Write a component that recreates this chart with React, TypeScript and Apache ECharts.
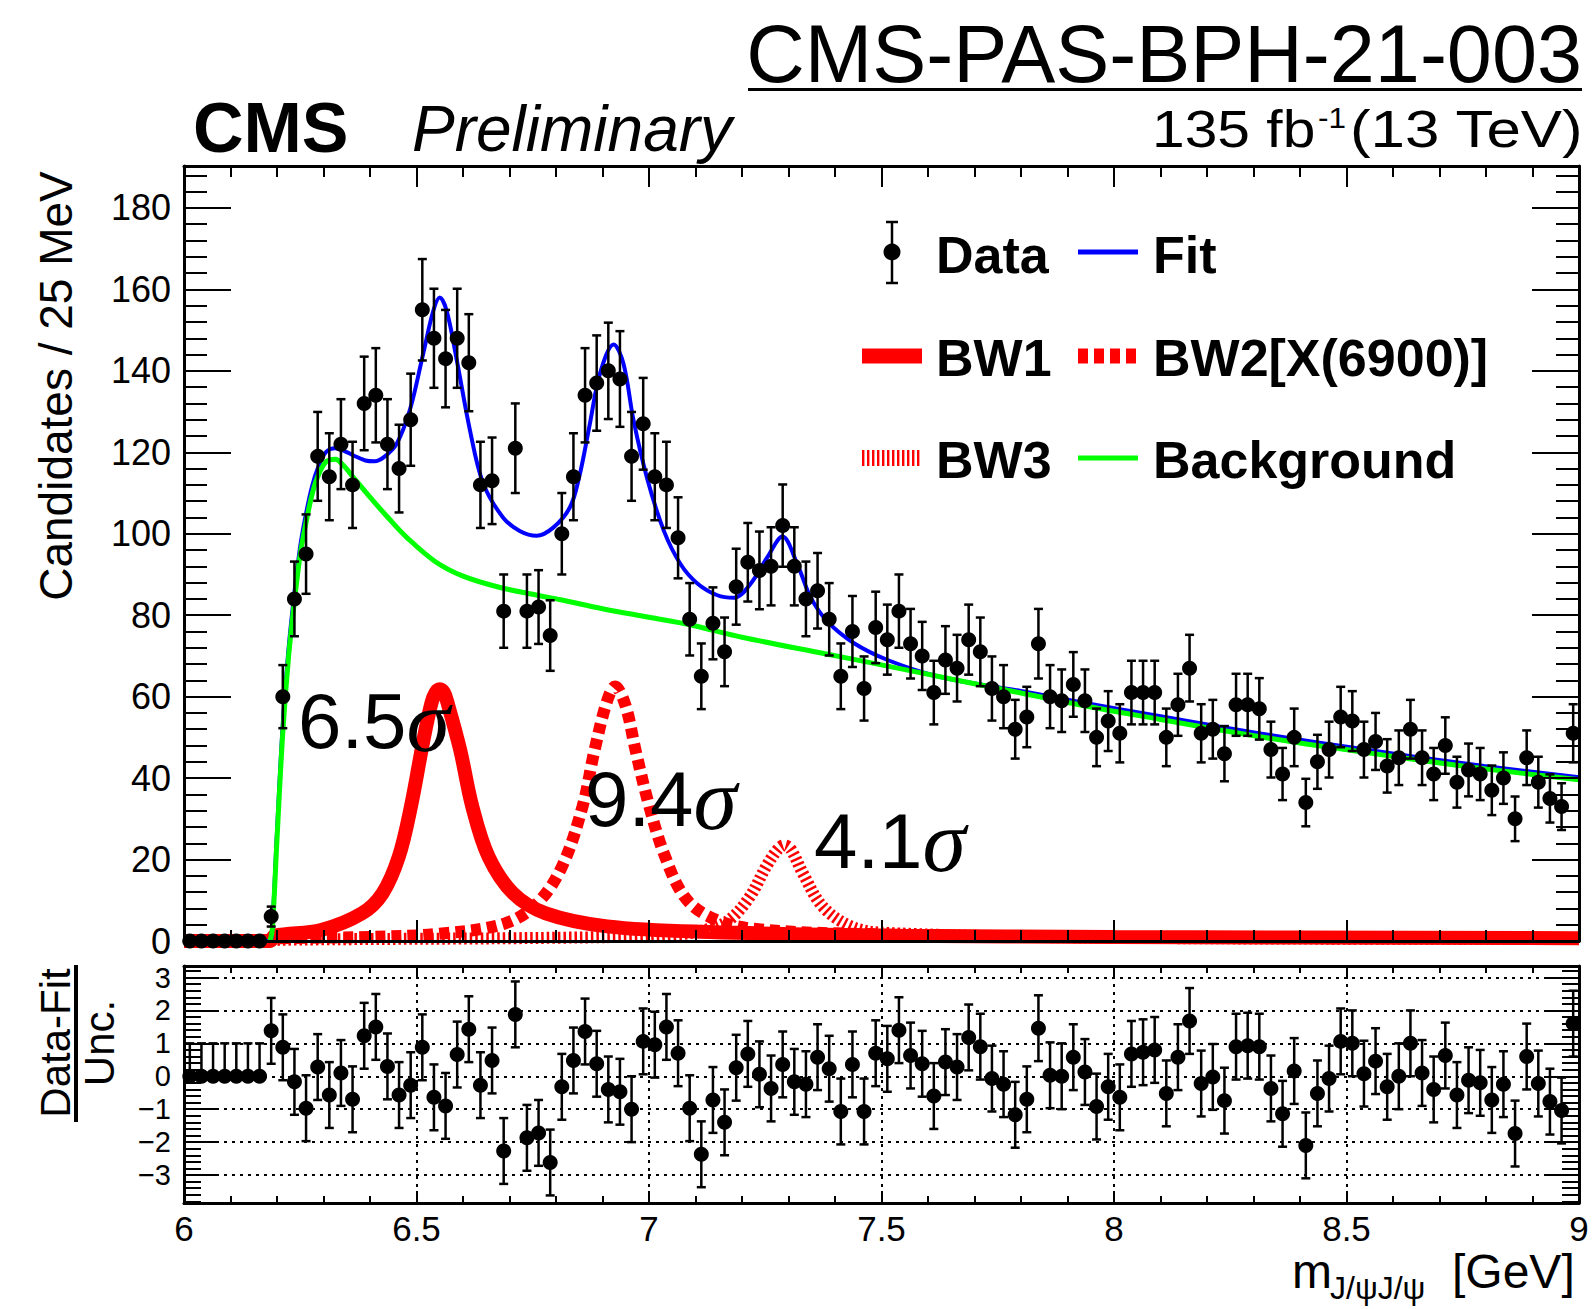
import React, { useEffect, useRef } from "react";
import * as echarts from "echarts";

// Histogram binning of the di-J/psi invariant mass
const HIST_LOW = 6.0;
const BIN_WIDTH = 0.025;

// Candidates per 25 MeV bin, 6.0 - 9.0 GeV
const candidates = [
  0, 0, 0, 0, 0, 0, 0, 6, 60, 84,
  95, 119, 114, 122, 112, 132, 134, 122, 116, 128,
  155, 148, 143, 148, 142, 112, 113, 81, 121, 81,
  82, 75, 100, 114, 134, 137, 140, 138, 119, 127,
  114, 112, 99, 79, 65, 78, 71, 87, 93, 91,
  92, 102, 92, 84, 86, 79, 65, 76, 62, 77,
  74, 81, 73, 70, 61, 69, 67, 74, 71, 62,
  60, 52, 55, 73, 60, 59, 63, 59, 50, 54,
  51, 61, 61, 61, 50, 58, 67, 51, 52, 46,
  58, 58, 57, 47, 41, 50, 34, 44, 47, 55,
  54, 47, 49, 43, 45, 52, 45, 41, 48, 39,
  42, 41, 37, 40, 30, 45, 39, 35, 33, 51,
];

// (Data - Fit) / Unc. per bin
const pulls = [
  0, 0, 0, 0, 0, 0, 0, 1.38, 0.88, -0.17,
  -0.97, 0.28, -0.57, 0.1, -0.7, 1.23, 1.5, 0.3, -0.57, -0.27,
  0.88, -0.64, -0.9, 0.66, 1.43, -0.27, 0.48, -2.27, 1.88, -1.87,
  -1.72, -2.62, -0.32, 0.48, 1.36, 0.38, -0.4, -0.47, -1.0, 1.06,
  0.96, 1.5, 0.7, -0.97, -2.37, -0.72, -1.4, 0.26, 0.68, 0.06,
  -0.37, 0.36, -0.17, -0.24, 0.58, 0.23, -1.07, 0.36, -1.07, 0.7,
  0.53, 1.4, 0.63, 0.38, -0.6, 0.43, 0.28, 1.18, 0.9, -0.07,
  -0.24, -1.17, -0.7, 1.46, 0.03, 0.0, 0.58, 0.13, -0.92, -0.32,
  -0.64, 0.68, 0.73, 0.8, -0.52, 0.58, 1.68, -0.22, -0.02, -0.74,
  0.9, 0.93, 0.9, -0.37, -1.14, 0.16, -2.1, -0.52, -0.07, 1.06,
  1.0, 0.08, 0.46, -0.32, 0.0, 1.0, 0.1, -0.4, 0.63, -0.57,
  -0.12, -0.2, -0.72, -0.24, -1.74, 0.6, -0.22, -0.77, -1.04, 1.6,
];

// Total fit, sampled along the mass axis [GeV, candidates]
const fitCurve: [number, number][] = [
  [6.0, 0], [6.185, 0], [6.19, 4], [6.2, 27], [6.2125, 53.5], [6.225, 72],
  [6.2375, 85.6], [6.25, 97], [6.2625, 105], [6.275, 111.5], [6.2875, 116],
  [6.305, 120], [6.325, 121], [6.345, 120.3], [6.365, 119.2], [6.39, 118],
  [6.41, 117.8], [6.43, 118.8], [6.457, 122], [6.486, 130.5], [6.514, 144],
  [6.536, 154.7], [6.55, 158], [6.565, 154.7], [6.586, 143], [6.615, 125.4],
  [6.643, 112.5], [6.686, 104], [6.722, 100.7], [6.758, 99.5], [6.794, 101.5],
  [6.83, 106.5], [6.85, 114], [6.872, 126.5], [6.895, 139.5], [6.924, 146.5],
  [6.945, 141.8], [6.967, 127.7], [6.996, 113.6], [7.032, 100.7], [7.068, 92.5],
  [7.104, 87.8], [7.147, 84.9], [7.183, 84.3], [7.219, 87.8], [7.255, 94.3],
  [7.287, 99.3], [7.319, 92.5], [7.348, 84.3], [7.384, 78.4], [7.441, 73.1],
  [7.513, 69], [7.62, 65], [7.733, 62.6], [7.8, 61.4], [7.944, 58.3],
  [8.1, 55.2], [8.228, 52.6], [8.4, 49.4], [8.512, 47.5], [8.65, 45.2],
  [8.796, 43], [9.0, 40.2],
];

// Background component
const backgroundCurve: [number, number][] = [
  [6.185, 0], [6.19, 3], [6.2, 25], [6.2125, 51.3], [6.225, 70], [6.2375, 83.4],
  [6.25, 95], [6.2625, 102.8], [6.275, 109.5], [6.2875, 114], [6.305, 117.6],
  [6.325, 118.3], [6.345, 116.5], [6.365, 113.7], [6.4, 109], [6.44, 103.8],
  [6.48, 99], [6.54, 93.2], [6.6, 89.6], [6.68, 86.8], [6.76, 84.9],
  [6.81, 83.8], [6.9, 81.6], [7.0, 79.5], [7.09, 77.6], [7.2, 74.6],
  [7.376, 70.6], [7.5, 67.8], [7.66, 64.1], [7.8, 60.9], [7.944, 57.6],
  [8.1, 54.4], [8.228, 51.8], [8.4, 48.6], [8.512, 46.8], [8.65, 44.5],
  [8.796, 42.3], [9.0, 39.6],
];

// Breit-Wigner components
const bw1Curve: [number, number][] = [
  [6.0, 0], [6.185, 0], [6.195, 1.3], [6.295, 2.7], [6.383, 6.8], [6.427, 11.7],
  [6.462, 20.7], [6.488, 33], [6.515, 49.4], [6.532, 58.4], [6.541, 61],
  [6.55, 61.8], [6.559, 61], [6.567, 58.4], [6.594, 46.9], [6.62, 33],
  [6.655, 20.7], [6.708, 11.7], [6.778, 6.8], [6.91, 3.6], [7.13, 2.2],
  [7.54, 1.3], [8.0, 1.0], [9.0, 0.7],
];

const bw2Curve: [number, number][] = [
  [6.0, 0], [6.185, 0], [6.195, 0.6], [6.4, 1.0], [6.55, 1.8], [6.69, 4.3],
  [6.76, 9.3], [6.813, 18.3], [6.857, 33], [6.883, 46.9], [6.91, 59],
  [6.927, 62.5], [6.949, 58], [6.971, 46.9], [6.997, 34.6], [7.032, 21.5],
  [7.076, 10.9], [7.129, 6], [7.217, 3.1], [7.5, 1.6], [8.0, 0.9], [9.0, 0.6],
];

const bw3Curve: [number, number][] = [
  [6.0, 0], [6.185, 0], [6.195, 0.3], [6.8, 0.8], [7.05, 1.5], [7.13, 3],
  [7.173, 5.2], [7.217, 10.9], [7.252, 18.3], [7.277, 22.5], [7.291, 23.5],
  [7.305, 22.5], [7.331, 16.6], [7.374, 8.4], [7.436, 3.5], [7.506, 2],
  [8.0, 0.8], [9.0, 0.5],
];

// Axis tick values
const massLabels = [6, 6.5, 7, 7.5, 8, 8.5, 9];
const countLabels = [0, 20, 40, 60, 80, 100, 120, 140, 160, 180];
const pullLabels = [-3, -2, -1, 0, 1, 2, 3];
const pullGridMass = [6.5, 7, 7.5, 8, 8.5];

const MASS_MIN = 6;
const MASS_MAX = 9;
const COUNT_MAX = 190.3;
const PULL_MIN = -3.85;
const PULL_MAX = 3.35;

const FONT = "'Liberation Sans', Arial, Helvetica, sans-serif";
const SERIF = "'Liberation Serif', 'Times New Roman', serif";

function steps(from: number, to: number, step: number): number[] {
  const out: number[] = [];
  const n = Math.round((to - from) / step);
  for (let i = 0; i <= n; i++) out.push(+(from + i * step).toFixed(6));
  return out;
}

const massMinor = steps(MASS_MIN, MASS_MAX, 0.1);
const countMinor = steps(0, 188, 4);
const pullMinor = steps(-3.8, 3.2, 0.2);

const binCenter = (i: number) => HIST_LOW + (i + 0.5) * BIN_WIDTH;

function xAxisDef(grid: number, position: string, ticks: number[], len: number, frame: boolean, labels?: number[]) {
  return {
    type: "value",
    gridIndex: grid,
    position,
    min: MASS_MIN,
    max: MASS_MAX,
    z: 10,
    axisLine: { show: frame, onZero: false, lineStyle: { color: "#000", width: 3 } },
    axisTick: { show: true, inside: true, length: len, customValues: ticks, lineStyle: { color: "#000", width: 2 } },
    axisLabel: labels
      ? { show: true, customValues: labels, margin: 8, color: "#000", fontSize: 35, fontFamily: FONT }
      : { show: false },
    splitLine: { show: false },
    minorTick: { show: false },
  };
}

function yAxisDef(
  grid: number, position: string, min: number, max: number, ticks: number[], len: number,
  frame: boolean, labels?: number[], labelSize = 35,
) {
  return {
    type: "value",
    gridIndex: grid,
    position,
    min,
    max,
    z: 10,
    axisLine: { show: frame, onZero: false, lineStyle: { color: "#000", width: 3 } },
    axisTick: { show: true, inside: true, length: len, customValues: ticks, lineStyle: { color: "#000", width: 2 } },
    axisLabel: labels
      ? {
          show: true,
          customValues: labels,
          margin: 13,
          color: "#000",
          fontSize: labelSize,
          fontFamily: FONT,
          formatter: (v: number) => (v < 0 ? "\u2212" + Math.abs(v) : String(v)),
        }
      : { show: false },
    splitLine: { show: false },
    minorTick: { show: false },
  };
}

function errorBars(capHalf: number, width: number) {
  return (_params: any, api: any) => {
    const x = api.value(0);
    const lo = api.coord([x, api.value(2)]);
    const hi = api.coord([x, api.value(3)]);
    const style = { stroke: "#000", lineWidth: width };
    return {
      type: "group",
      children: [
        { type: "line", shape: { x1: lo[0], y1: lo[1], x2: hi[0], y2: hi[1] }, style },
        { type: "line", shape: { x1: lo[0] - capHalf, y1: lo[1], x2: lo[0] + capHalf, y2: lo[1] }, style },
        { type: "line", shape: { x1: hi[0] - capHalf, y1: hi[1], x2: hi[0] + capHalf, y2: hi[1] }, style },
      ],
    };
  };
}

function text(x: number, y: number, str: string, size: number, extra: Record<string, any> = {}, el: Record<string, any> = {}) {
  const align = extra.align || "left";
  return {
    type: "text",
    x,
    y,
    z: 100,
    ...el,
    style: {
      text: str,
      fill: "#000",
      fontSize: size,
      fontFamily: FONT,
      align,
      textAlign: align,
      verticalAlign: "middle",
      textVerticalAlign: "middle",
      ...extra,
    },
  };
}

function seg(x1: number, y1: number, x2: number, y2: number, stroke: string, lineWidth: number, lineDash?: number[]) {
  return {
    type: "line",
    z: 100,
    shape: { x1, y1, x2, y2 },
    style: { stroke, lineWidth, lineDash: lineDash || null },
  };
}

function significance(x: number, y: number, value: string) {
  return {
    type: "text",
    x,
    y,
    z: 100,
    style: {
      text: `{n|${value}}{s|\u03c3}`,
      align: "left",
      verticalAlign: "middle",
      rich: {
        n: { fontSize: 78, fontFamily: FONT, fill: "#000" },
        s: { fontSize: 88, fontFamily: SERIF, fontStyle: "italic", fill: "#000" },
      },
    },
  };
}

function buildOption() {
  const points = candidates.map((c, i) => [binCenter(i), c]);
  const pointErrors = candidates
    .map((c, i) => [binCenter(i), c, c - Math.sqrt(c), c + Math.sqrt(c)])
    .filter((d) => d[1] > 0);
  const pullPoints = pulls.map((p, i) => [binCenter(i), p]);
  const pullErrors = pulls.map((p, i) => [binCenter(i), p, candidates[i] > 0 ? p - 1 : p, p + 1]);

  const curve = (data: [number, number][], color: string, width: number, z: number, dash?: number[], clip = true) => ({
    type: "line",
    xAxisIndex: 0,
    yAxisIndex: 0,
    data,
    showSymbol: false,
    symbol: "none",
    smooth: 0.35,
    clip,
    z,
    lineStyle: { color, width, type: dash || "solid", cap: "butt", opacity: 1 },
    silent: true,
  });

  const dotStyle = { color: "#000", opacity: 1 };

  return {
    animation: false,
    backgroundColor: "#fff",
    grid: [
      { left: 184, top: 166, width: 1395, height: 775, show: false },
      { left: 184, top: 966, width: 1395, height: 237, show: false },
    ],
    xAxis: [
      xAxisDef(0, "bottom", massLabels, 21, true),
      xAxisDef(0, "bottom", massMinor, 11, false),
      xAxisDef(0, "top", massLabels, 21, true),
      xAxisDef(0, "top", massMinor, 11, false),
      xAxisDef(1, "bottom", massLabels, 12, true, massLabels),
      xAxisDef(1, "bottom", massMinor, 7, false),
      xAxisDef(1, "top", massLabels, 12, true),
      xAxisDef(1, "top", massMinor, 7, false),
    ],
    yAxis: [
      yAxisDef(0, "left", 0, COUNT_MAX, countLabels, 47, true, countLabels, 36),
      yAxisDef(0, "left", 0, COUNT_MAX, countMinor, 23, false),
      yAxisDef(0, "right", 0, COUNT_MAX, countLabels, 47, true),
      yAxisDef(0, "right", 0, COUNT_MAX, countMinor, 23, false),
      yAxisDef(1, "left", PULL_MIN, PULL_MAX, pullLabels, 33, true, pullLabels, 29),
      yAxisDef(1, "left", PULL_MIN, PULL_MAX, pullMinor, 17, false),
      yAxisDef(1, "right", PULL_MIN, PULL_MAX, pullLabels, 33, true),
      yAxisDef(1, "right", PULL_MIN, PULL_MAX, pullMinor, 17, false),
    ],
    series: [
      curve(bw3Curve, "#ff0000", 12, 2, [2.5, 3], false),
      curve(bw2Curve, "#ff0000", 12, 2, [10, 6], false),
      curve(bw1Curve, "#ff0000", 14, 2, undefined, false),
      curve(fitCurve, "#0000ff", 4, 3),
      curve(backgroundCurve, "#00ff00", 5, 4),
      {
        type: "custom",
        xAxisIndex: 0,
        yAxisIndex: 0,
        data: pointErrors,
        renderItem: errorBars(4.5, 2.5),
        encode: { x: 0, y: 1 },
        z: 5,
        silent: true,
      },
      {
        type: "scatter",
        xAxisIndex: 0,
        yAxisIndex: 0,
        data: points,
        symbol: "circle",
        symbolSize: 15,
        itemStyle: dotStyle,
        clip: false,
        z: 6,
        silent: true,
      },
      {
        type: "custom",
        xAxisIndex: 4,
        yAxisIndex: 4,
        data: pullErrors,
        renderItem: errorBars(4.5, 2.5),
        encode: { x: 0, y: 1 },
        z: 5,
        silent: true,
      },
      {
        type: "scatter",
        xAxisIndex: 4,
        yAxisIndex: 4,
        data: pullPoints,
        symbol: "circle",
        symbolSize: 15,
        itemStyle: dotStyle,
        z: 6,
        silent: true,
        markLine: {
          silent: true,
          symbol: ["none", "none"],
          label: { show: false },
          lineStyle: { color: "#000", width: 2, type: [3, 5], opacity: 1 },
          data: [
            ...pullLabels.map((v) => ({ yAxis: v })),
            ...pullGridMass.map((v) => ({ xAxis: v })),
          ],
        },
      },
    ],
    graphic: [
      // Document reference, top right
      text(1582, 54, "CMS-PAS-BPH-21-003", 81, { align: "right" }),
      { type: "rect", z: 100, shape: { x: 748, y: 88, width: 834, height: 3 }, style: { fill: "#000" } },
      // Experiment label
      text(193, 128, "CMS", 70, { fontWeight: "bold" }),
      text(412, 129, "Preliminary", 64, { fontStyle: "italic" }),
      // Luminosity and energy
      text(1152, 129, "135 fb", 52, {}, { scaleX: 1.13 }),
      text(1318, 118, "-1", 30, {}, { scaleX: 1.05 }),
      text(1350, 129, "(13 TeV)", 52, {}, { scaleX: 1.19 }),
      // Legend
      seg(892, 222, 892, 283, "#000", 2.5),
      seg(886, 222, 898, 222, "#000", 2.5),
      seg(886, 283, 898, 283, "#000", 2.5),
      { type: "circle", z: 100, shape: { cx: 892, cy: 252, r: 8.5 }, style: { fill: "#000" } },
      text(936, 255, "Data", 52, { fontWeight: "bold" }),
      seg(1078, 252, 1138, 252, "#0000ff", 5),
      text(1153, 255, "Fit", 52, { fontWeight: "bold" }),
      seg(862, 356, 922, 356, "#ff0000", 15),
      text(936, 358, "BW1", 52, { fontWeight: "bold" }),
      seg(1078, 356, 1138, 356, "#ff0000", 15, [10, 6]),
      text(1153, 358, "BW2[X(6900)]", 52, { fontWeight: "bold" }),
      seg(862, 458, 920, 458, "#ff0000", 16, [2.4, 2.6]),
      text(936, 460, "BW3", 52, { fontWeight: "bold" }),
      seg(1078, 458, 1138, 458, "#00ff00", 5),
      text(1153, 460, "Background", 52, { fontWeight: "bold" }),
      // Significances
      significance(298, 721, "6.5"),
      significance(585, 799, "9.4"),
      significance(814, 841, "4.1"),
      // Axis titles
      text(56, 386, "Candidates / 25 MeV", 46, { align: "center" }, { rotation: Math.PI / 2 }),
      text(55, 1043, "Data-Fit", 42, { align: "center" }, { rotation: Math.PI / 2 }),
      { type: "rect", z: 100, shape: { x: 74, y: 965, width: 4, height: 157 }, style: { fill: "#000" } },
      text(99, 1043, "Unc.", 42, { align: "center" }, { rotation: Math.PI / 2 }),
      text(1292, 1271, "m", 48),
      text(1330, 1288, "J/\u03c8J/\u03c8", 32),
      text(1452, 1271, "[GeV]", 48),
    ],
  };
}

export default function App() {
  const ref = useRef<HTMLDivElement>(null);
  useEffect(() => {
    if (!ref.current) return;
    const chart = echarts.init(ref.current, undefined, { renderer: "svg" });
    chart.setOption(buildOption() as any);
    return () => chart.dispose();
  }, []);
  return (
    <div
      ref={ref}
      style={{ position: "absolute", left: 0, top: 0, width: 1595, height: 1309, background: "#fff" }}
    />
  );
}
